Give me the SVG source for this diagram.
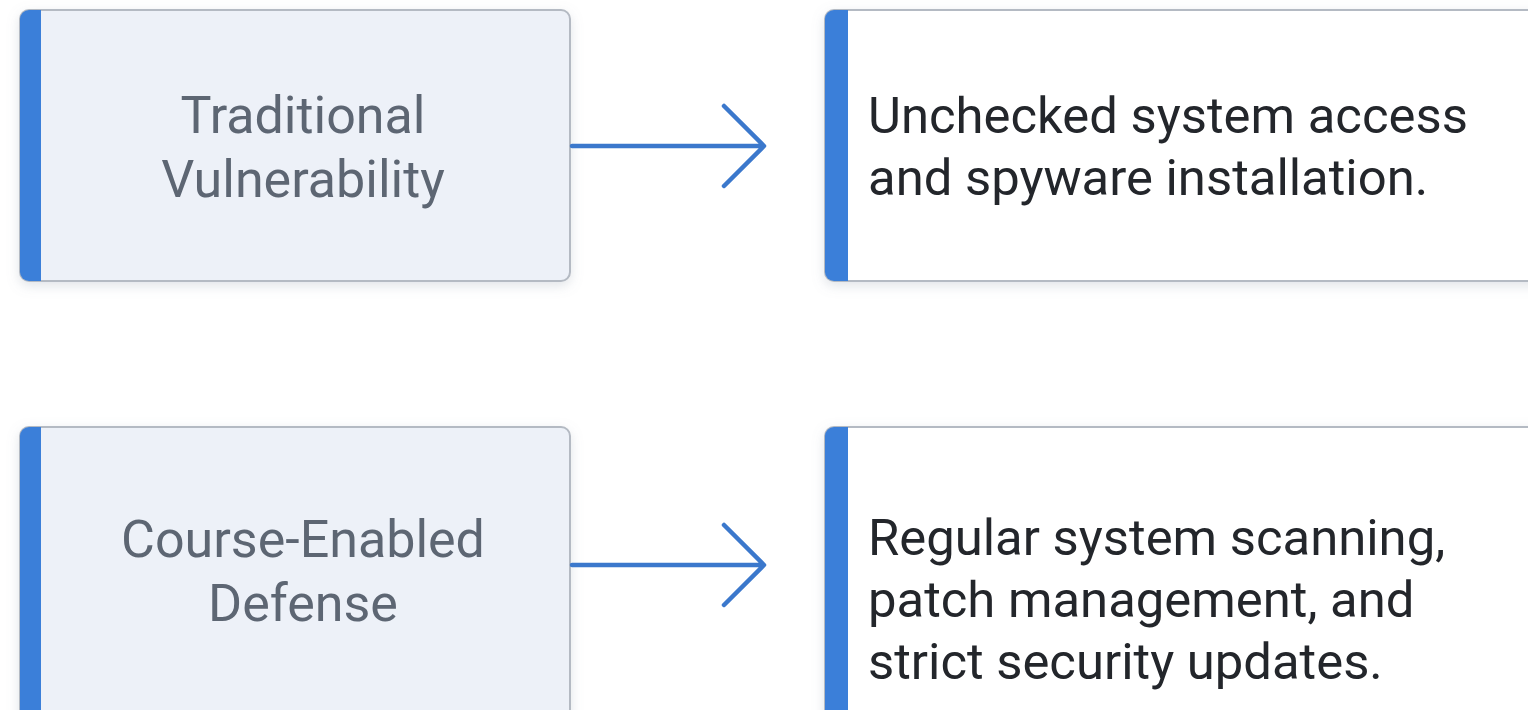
<svg xmlns="http://www.w3.org/2000/svg" width="1528" height="710" viewBox="0 0 1528 710">
  <defs>
    <filter id="sh" x="-10%" y="-10%" width="120%" height="130%">
      <feDropShadow dx="0" dy="4" stdDeviation="6" flood-color="#8a94a6" flood-opacity="0.25"/>
    </filter>
    <clipPath id="clipTL"><rect x="20" y="10" width="550" height="271" rx="9"/></clipPath>
    <clipPath id="clipTR"><rect x="825" y="10" width="760" height="271" rx="9"/></clipPath>
    <clipPath id="clipBL"><rect x="20" y="427" width="550" height="300" rx="9"/></clipPath>
    <clipPath id="clipBR"><rect x="825" y="427" width="760" height="300" rx="9"/></clipPath>
  </defs>
  <style>
    .lbox { fill: #edf1f8; stroke: #b4bac3; stroke-width: 2; }
    .rbox { fill: #ffffff; stroke: #b4bac3; stroke-width: 2; }
    .bar { fill: #3b7fd9; }
    .ltxt { font-family: Roboto, "Liberation Sans", sans-serif; font-size: 52px; font-weight: 400; fill: #5d6673; text-anchor: middle; }
    .rtxt { font-family: Roboto, "Liberation Sans", sans-serif; font-size: 50.8px; fill: #23262b; }
    .conn { stroke: #3b78cc; stroke-width: 4.5; fill: none; stroke-linecap: round; stroke-linejoin: round; }
  </style>
  <rect width="1528" height="710" fill="#ffffff"/>

  <g id="node-traditional">
    <rect class="lbox" x="20" y="10" width="550" height="271" rx="9" filter="url(#sh)"/>
    <rect class="bar" x="20" y="10" width="21" height="271" clip-path="url(#clipTL)"/>
    <text class="ltxt" x="303" y="133">Traditional</text>
    <text class="ltxt" x="303" y="197">Vulnerability</text>
  </g>

  <g id="node-unchecked">
    <rect class="rbox" x="825" y="10" width="760" height="271" rx="9" filter="url(#sh)"/>
    <rect class="bar" x="825" y="10" width="23" height="271" clip-path="url(#clipTR)"/>
    <text class="rtxt" x="868" y="133">Unchecked system access</text>
    <text class="rtxt" x="868" y="195">and spyware installation.</text>
  </g>

  <g id="node-course">
    <rect class="lbox" x="20" y="427" width="550" height="300" rx="9" filter="url(#sh)"/>
    <rect class="bar" x="20" y="427" width="21" height="300" clip-path="url(#clipBL)"/>
    <text class="ltxt" x="303" y="557">Course-Enabled</text>
    <text class="ltxt" x="303" y="621">Defense</text>
  </g>

  <g id="node-regular">
    <rect class="rbox" x="825" y="427" width="760" height="300" rx="9" filter="url(#sh)"/>
    <rect class="bar" x="825" y="427" width="23" height="300" clip-path="url(#clipBR)"/>
    <text class="rtxt" x="868" y="555">Regular system scanning,</text>
    <text class="rtxt" x="868" y="617">patch management, and</text>
    <text class="rtxt" x="868" y="679">strict security updates.</text>
  </g>

  <g id="connectors">
    <path class="conn" d="M572 146 H763 M724 106 L764 146 L724 186"/>
    <path class="conn" d="M572 565 H763 M724 525 L764 565 L724 605"/>
  </g>
</svg>
